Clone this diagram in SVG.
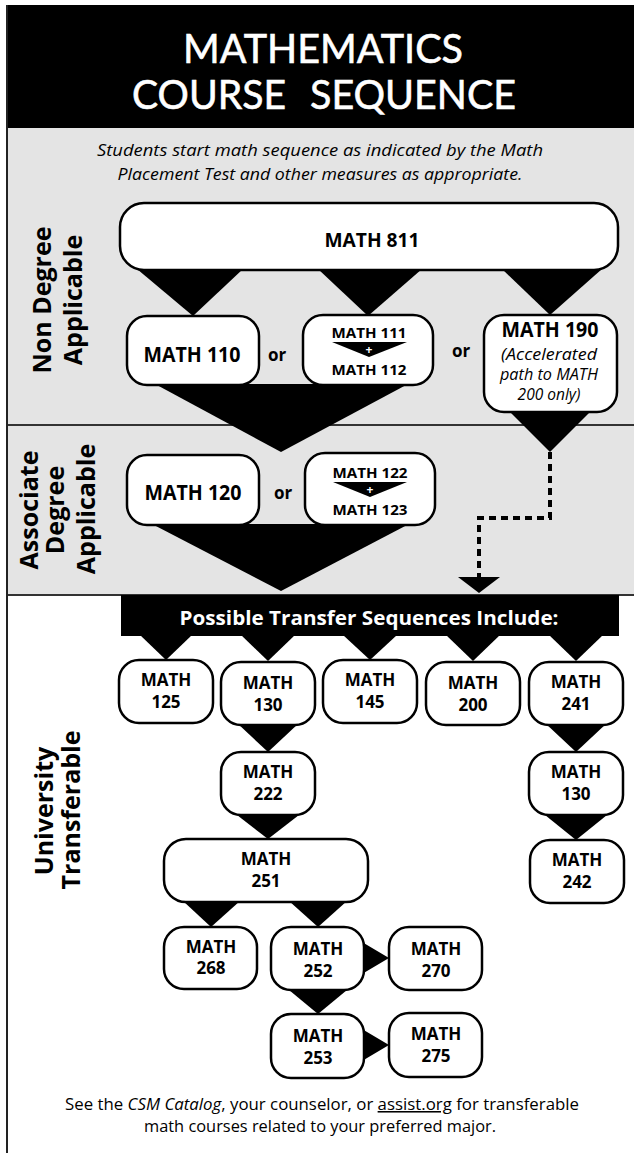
<svg xmlns="http://www.w3.org/2000/svg" width="634" height="1153" viewBox="0 0 634 1153">
<style>
.box{fill:#fff;stroke:#000;stroke-width:2.5}
.b{font-family:"Open Sans","Noto Sans",sans-serif;font-weight:700;fill:#000;text-anchor:middle}
.side{font-family:"Open Sans","Noto Sans",sans-serif;font-weight:700;fill:#000;text-anchor:middle;font-size:25px}
.it{font-family:"Open Sans","Noto Sans",sans-serif;font-style:italic;fill:#000;text-anchor:middle}
.reg{font-family:"Open Sans","Noto Sans",sans-serif;fill:#000;text-anchor:middle}
.title{font-family:Lato,"Open Sans",sans-serif;fill:#fff;stroke:#fff;stroke-width:0.6;font-size:40px}
.sep{stroke:#333;stroke-width:2}
.tri{fill:#000}
</style>
<rect x="0" y="0" width="634" height="1153" fill="#fff"/>
<g id="header">
<rect x="7" y="5" width="627" height="123" fill="#000"/>
<text class="title" x="183" y="63" textLength="280" lengthAdjust="spacingAndGlyphs">MATHEMATICS</text>
<text class="title" x="132" y="109" textLength="154" lengthAdjust="spacingAndGlyphs">COURSE</text>
<text class="title" x="310" y="109" textLength="206" lengthAdjust="spacingAndGlyphs">SEQUENCE</text>
</g>
<g id="bands">
<rect x="7" y="128" width="627" height="467" fill="#e4e4e4"/>
<line class="sep" x1="7" y1="425" x2="634" y2="425"/>
<line class="sep" x1="7" y1="595" x2="634" y2="595"/>
<line x1="7" y1="5" x2="7" y2="1153" stroke="#222" stroke-width="2"/>
</g>
<g id="intro">
<text class="it" x="320" y="156" font-size="16.5" textLength="446" lengthAdjust="spacingAndGlyphs">Students start math sequence as indicated by the Math</text>
<text class="it" x="320" y="180" font-size="16.5" textLength="405" lengthAdjust="spacingAndGlyphs">Placement Test and other measures as appropriate.</text>
</g>
<g id="labels">
<text class="side" transform="translate(51,300) rotate(-90)" font-size="26">Non Degree</text>
<text class="side" transform="translate(82,300) rotate(-90)" font-size="26">Applicable</text>
<text class="side" transform="translate(38,510) rotate(-90)">Associate</text>
<text class="side" transform="translate(64,510) rotate(-90)">Degree</text>
<text class="side" transform="translate(95,509) rotate(-90)">Applicable</text>
<text class="side" transform="translate(53,811) rotate(-90)">University</text>
<text class="side" transform="translate(80,810) rotate(-90)">Transferable</text>
</g>
<g id="connectors">
<polygon class="tri" points="137,269 243,269 193,316"/>
<polygon class="tri" points="318,269 422,269 368,316"/>
<polygon class="tri" points="502,269 602,269 550,315"/>
<polygon class="tri" points="155,384 408,384 281,452"/>
<polygon class="tri" points="508,410 592,410 550,452"/>
<path d="M550,452 V518 H479 V578" fill="none" stroke="#000" stroke-width="4" stroke-dasharray="7,5"/>
<polygon class="tri" points="458,577 500,577 479,593"/>
<polygon class="tri" points="152,524 409,524 281,591"/>
<polygon class="tri" points="140,635 192,635 166,660"/>
<polygon class="tri" points="241,635 295,635 268,661"/>
<polygon class="tri" points="343,635 397,635 370,660"/>
<polygon class="tri" points="446,635 500,635 473,661"/>
<polygon class="tri" points="549,635 603,635 576,661"/>
<polygon class="tri" points="237,723 299,723 268,752"/>
<polygon class="tri" points="545,723 607,723 576,752"/>
<polygon class="tri" points="237,815 299,815 268,839"/>
<polygon class="tri" points="545,815 607,815 576,840"/>
<polygon class="tri" points="183,901 240,901 211,927"/>
<polygon class="tri" points="289,901 347,901 318,927"/>
<polygon class="tri" points="362,942 362,974 389,958"/>
<polygon class="tri" points="289,990 347,990 318,1014"/>
<polygon class="tri" points="362,1029 362,1061 389,1045"/>
</g>
<g id="math811">
<rect class="box" x="120" y="203" width="498" height="67" rx="24"/>
<text class="b" x="372" y="247" font-size="20" textLength="95" lengthAdjust="spacingAndGlyphs">MATH 811</text>
</g>
<g id="math110">
<rect class="box" x="127" y="316" width="132" height="69" rx="20"/>
<text class="b" x="192" y="362" font-size="21" textLength="97" lengthAdjust="spacingAndGlyphs">MATH 110</text>
</g>
<text class="b" x="277" y="361" font-size="17">or</text>
<g id="math111-112">
<rect class="box" x="303" y="315" width="130" height="70" rx="20"/>
<text class="b" x="369" y="338" font-size="15" textLength="75" lengthAdjust="spacingAndGlyphs">MATH 111</text>
<polygon class="tri" points="332,342 407,342 369,357"/>
<text class="b" x="369" y="354" font-size="12" style="fill:#fff">+</text>
<text class="b" x="369" y="375" font-size="15" textLength="75" lengthAdjust="spacingAndGlyphs">MATH 112</text>
</g>
<text class="b" x="461" y="357" font-size="17">or</text>
<g id="math190">
<rect class="box" x="484" y="315" width="133" height="97" rx="20"/>
<text class="b" x="550" y="337" font-size="21" textLength="97" lengthAdjust="spacingAndGlyphs">MATH 190</text>
<text class="it" x="549" y="360" font-size="15.5" textLength="96" lengthAdjust="spacingAndGlyphs">(Accelerated</text>
<text class="it" x="549" y="380" font-size="15.5" textLength="98" lengthAdjust="spacingAndGlyphs">path to MATH</text>
<text class="it" x="549" y="400" font-size="15.5">200 only)</text>
</g>
<g id="math120">
<rect class="box" x="127" y="455" width="132" height="70" rx="20"/>
<text class="b" x="193" y="500" font-size="21" textLength="97" lengthAdjust="spacingAndGlyphs">MATH 120</text>
</g>
<text class="b" x="283" y="499" font-size="17">or</text>
<g id="math122-123">
<rect class="box" x="305" y="453" width="130" height="72" rx="20"/>
<text class="b" x="370" y="478" font-size="15" textLength="75" lengthAdjust="spacingAndGlyphs">MATH 122</text>
<polygon class="tri" points="333,482 407,482 370,497"/>
<text class="b" x="370" y="494" font-size="12" style="fill:#fff">+</text>
<text class="b" x="370" y="515" font-size="15" textLength="75" lengthAdjust="spacingAndGlyphs">MATH 123</text>
</g>
<g id="transfer-banner">
<rect x="121" y="595" width="498" height="41" fill="#000"/>
<text class="b" x="369" y="625" font-size="19" style="fill:#fff" textLength="379" lengthAdjust="spacingAndGlyphs">Possible Transfer Sequences Include:</text>
</g>
<g id="math125">
<rect class="box" x="119" y="660" width="94" height="63" rx="20"/>
<text class="b" x="166" y="686" font-size="17">MATH</text>
<text class="b" x="166" y="708" font-size="17">125</text>
</g>
<g id="math130">
<rect class="box" x="221" y="662" width="94" height="63" rx="20"/>
<text class="b" x="268" y="689" font-size="17">MATH</text>
<text class="b" x="268" y="711" font-size="17">130</text>
</g>
<g id="math145">
<rect class="box" x="323" y="660" width="94" height="63" rx="20"/>
<text class="b" x="370" y="686" font-size="17">MATH</text>
<text class="b" x="370" y="708" font-size="17">145</text>
</g>
<g id="math200">
<rect class="box" x="426" y="662" width="94" height="63" rx="20"/>
<text class="b" x="473" y="689" font-size="17">MATH</text>
<text class="b" x="473" y="711" font-size="17">200</text>
</g>
<g id="math241">
<rect class="box" x="529" y="662" width="94" height="63" rx="20"/>
<text class="b" x="576" y="688" font-size="17">MATH</text>
<text class="b" x="576" y="710" font-size="17">241</text>
</g>
<g id="math222">
<rect class="box" x="221" y="752" width="94" height="63" rx="20"/>
<text class="b" x="268" y="778" font-size="17">MATH</text>
<text class="b" x="268" y="800" font-size="17">222</text>
</g>
<g id="math130b">
<rect class="box" x="529" y="752" width="94" height="63" rx="20"/>
<text class="b" x="576" y="778" font-size="17">MATH</text>
<text class="b" x="576" y="800" font-size="17">130</text>
</g>
<g id="math251">
<rect class="box" x="164" y="839" width="204" height="63" rx="22"/>
<text class="b" x="266" y="865" font-size="17">MATH</text>
<text class="b" x="266" y="887" font-size="17">251</text>
</g>
<g id="math242">
<rect class="box" x="530" y="840" width="94" height="63" rx="20"/>
<text class="b" x="577" y="866" font-size="17">MATH</text>
<text class="b" x="577" y="888" font-size="17">242</text>
</g>
<g id="math268">
<rect class="box" x="164" y="927" width="93" height="62" rx="20"/>
<text class="b" x="211" y="953" font-size="17">MATH</text>
<text class="b" x="211" y="974" font-size="17">268</text>
</g>
<g id="math252">
<rect class="box" x="271" y="927" width="93" height="63" rx="20"/>
<text class="b" x="318" y="955" font-size="17">MATH</text>
<text class="b" x="318" y="977" font-size="17">252</text>
</g>
<g id="math270">
<rect class="box" x="389" y="927" width="93" height="63" rx="20"/>
<text class="b" x="436" y="955" font-size="17">MATH</text>
<text class="b" x="436" y="977" font-size="17">270</text>
</g>
<g id="math253">
<rect class="box" x="271" y="1014" width="93" height="64" rx="20"/>
<text class="b" x="318" y="1042" font-size="17">MATH</text>
<text class="b" x="318" y="1064" font-size="17">253</text>
</g>
<g id="math275">
<rect class="box" x="389" y="1013" width="93" height="64" rx="20"/>
<text class="b" x="436" y="1040" font-size="17">MATH</text>
<text class="b" x="436" y="1062" font-size="17">275</text>
</g>
<g id="footer">
<text class="reg" x="322" y="1110" font-size="15.5" textLength="514" lengthAdjust="spacingAndGlyphs">See the <tspan font-style="italic">CSM Catalog</tspan>, your counselor, or <tspan text-decoration="underline">assist.org</tspan> for transferable</text>
<text class="reg" x="320" y="1132" font-size="15.5" textLength="352" lengthAdjust="spacingAndGlyphs">math courses related to your preferred major.</text>
</g>
</svg>
